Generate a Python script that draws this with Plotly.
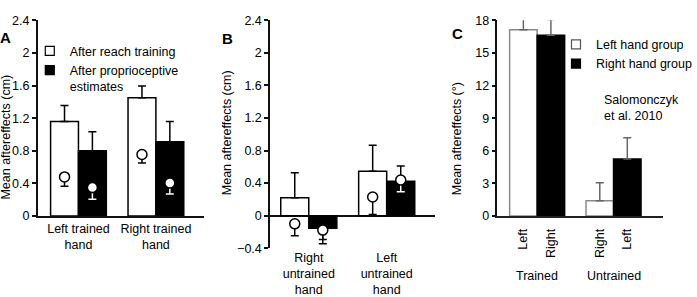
import plotly.graph_objects as go

# ---------------- data ----------------
# Panel A
a_cats = ["Left trained<br>hand", "Right trained<br>hand"]
a_reach = [1.16, 1.45]
a_reach_err = [0.195, 0.145]
a_prop = [0.80, 0.91]
a_prop_err = [0.235, 0.25]
a_reach_circ = [0.48, 0.755]
a_reach_circ_err = [0.115, 0.105]
a_prop_circ = [0.35, 0.405]
a_prop_circ_err = [0.145, 0.135]

# Panel B
b_cats = ["Right<br>untrained<br>hand", "Left<br>untrained<br>hand"]
b_reach = [0.22, 0.547]
b_reach_err = [0.307, 0.318]
b_prop = [-0.153, 0.423]
b_prop_err = [0.14, 0.188]
b_reach_circ = [-0.10, 0.23]
b_reach_circ_err = [0.145, 0.214]
b_prop_circ = [-0.177, 0.438]
b_prop_circ_err = [0.169, 0.145]

# Panel C
c_groups = ["Trained", "Untrained"]
c_left_labels = ["Left", "Right"]
c_right_labels = ["Right", "Left"]
c_left = [17.13, 1.42]
c_left_err = [1.37, 1.65]
c_right = [16.63, 5.24]
c_right_err = [1.43, 1.95]

legend_a = ["After reach training", "After proprioceptive<br>estimates"]
legend_c = ["Left hand group", "Right hand group"]

# ---------------- layout helpers ----------------
W, H = 697, 297
FONT = "Liberation Sans, Arial, sans-serif"
FS = 12.5
OFF = 0.18
BW = 0.36


def px_x(p):
    return p / W


def px_y(p):
    return 1 - p / H


fig = go.Figure()


def err_arrays(vals, errs):
    up = [e if v >= 0 else 0 for v, e in zip(vals, errs)]
    dn = [e if v < 0 else 0 for v, e in zip(vals, errs)]
    return up, dn


def add_bars(vals, errs, xs, fill, line, errcol, name, ax):
    up, dn = err_arrays(vals, errs)
    fig.add_trace(go.Bar(
        x=xs, y=vals, width=BW, name=name.replace("<br>", " "),
        marker=dict(color=fill, line=dict(color=line, width=1.5)),
        error_y=dict(type="data", symmetric=False, array=up, arrayminus=dn,
                     color=errcol, thickness=1.5, width=4),
        xaxis=ax[0], yaxis=ax[1], showlegend=False,
    ))


def add_legend_entry(name, fill, line, legend):
    # legend-only entry with a small square key (no data drawn)
    fig.add_trace(go.Scatter(
        x=[None], y=[None], mode="markers", name=name,
        marker=dict(symbol="square", size=9, color=fill,
                    line=dict(color=line, width=1.2)),
        legend=legend, showlegend=True, hoverinfo="skip",
    ))


def add_circles(vals, errs, xs, bar_vals, bar_fill, ax):
    for x, v, e, b in zip(xs, vals, errs, bar_vals):
        lo = v - e
        inside = bar_fill == "black" and min(0, b) <= lo <= max(0, b)
        col = "white" if inside else "black"
        fig.add_trace(go.Scatter(
            x=[x], y=[v], mode="markers",
            marker=dict(symbol="circle", size=10, color="white",
                        line=dict(color="black", width=1.5)),
            error_y=dict(type="data", symmetric=False, array=[0], arrayminus=[e],
                         color=col, thickness=1.5, width=4),
            xaxis=ax[0], yaxis=ax[1], showlegend=False,
        ))


# Panel A
idx_a = list(range(len(a_cats)))
xa_w = [i - OFF for i in idx_a]
xa_b = [i + OFF for i in idx_a]
add_bars(a_reach, a_reach_err, xa_w, "white", "black", "black", legend_a[0], ("x", "y"))
add_bars(a_prop, a_prop_err, xa_b, "black", "black", "black", legend_a[1], ("x", "y"))
add_circles(a_reach_circ, a_reach_circ_err, xa_w, a_reach, "white", ("x", "y"))
add_circles(a_prop_circ, a_prop_circ_err, xa_b, a_prop, "black", ("x", "y"))

# Panel B
idx_b = list(range(len(b_cats)))
xb_w = [i - OFF for i in idx_b]
xb_b = [i + OFF for i in idx_b]
add_bars(b_reach, b_reach_err, xb_w, "white", "black", "black", legend_a[0], ("x2", "y2"))
add_bars(b_prop, b_prop_err, xb_b, "black", "black", "black", legend_a[1], ("x2", "y2"))
add_circles(b_reach_circ, b_reach_circ_err, xb_w, b_reach, "white", ("x2", "y2"))
add_circles(b_prop_circ, b_prop_circ_err, xb_b, b_prop, "black", ("x2", "y2"))

# Panel C
idx_c = list(range(len(c_groups)))
xc_w = [i - OFF for i in idx_c]
xc_b = [i + OFF for i in idx_c]
add_bars(c_left, c_left_err, xc_w, "white", "#8a8a8a", "#666666", legend_c[0], ("x3", "y3"))
add_bars(c_right, c_right_err, xc_b, "black", "black", "#666666", legend_c[1], ("x3", "y3"))

# legend keys
add_legend_entry(legend_a[0], "white", "black", "legend")
add_legend_entry(legend_a[1], "black", "black", "legend")
add_legend_entry(legend_c[0], "white", "#555", "legend2")
add_legend_entry(legend_c[1], "black", "black", "legend2")

c_tickvals = []
c_ticktext = []
for i in idx_c:
    c_tickvals += [i - OFF, i + OFF]
    c_ticktext += [c_left_labels[i], c_right_labels[i]]

axis_font = dict(family=FONT, size=FS, color="black")

common_y = dict(showline=True, linecolor="#111", linewidth=1.5, ticks="outside",
                ticklen=4, tickwidth=1.5, tickcolor="#111", showgrid=False,
                tickfont=axis_font, fixedrange=True)
common_x = dict(showgrid=False, zeroline=False, ticks="", tickfont=axis_font,
                fixedrange=True)

fig.update_layout(
    width=W, height=H,
    margin=dict(l=0, r=0, t=0, b=0),
    paper_bgcolor="white", plot_bgcolor="white",
    font=dict(family=FONT, size=FS, color="black"),
    barmode="overlay",
    xaxis=dict(domain=[px_x(38), px_x(205)], range=[-0.526, 1.615],
               tickvals=idx_a, ticktext=a_cats, showline=True, linecolor="#111",
               linewidth=1.5, **common_x),
    yaxis=dict(domain=[px_y(221), px_y(14)], range=[0, 2.4], dtick=0.4,
               tickformat="~g", anchor="x", zeroline=False, **common_y),
    xaxis2=dict(domain=[px_x(272), px_x(438)], range=[-0.497, 1.618],
                tickvals=idx_b, ticktext=b_cats, showline=False, anchor="y2",
                **common_x),
    yaxis2=dict(domain=[px_y(255), px_y(14)], range=[-0.4, 2.4], dtick=0.4,
                tick0=0, tickformat="~g", anchor="x2",
                zeroline=True, zerolinecolor="#111", zerolinewidth=1.5,
                **common_y),
    xaxis3=dict(domain=[px_x(501), px_x(668)], range=[-0.52, 1.65],
                tickvals=c_tickvals, ticktext=c_ticktext, tickangle=-90,
                ticklabelstandoff=6,
                showline=True, linecolor="#222", linewidth=1.5, anchor="y3",
                **common_x),
    yaxis3=dict(domain=[px_y(221), px_y(14)], range=[0, 18], dtick=3,
                anchor="x3", zeroline=False, **common_y),
    legend=dict(x=px_x(30), y=px_y(31), xanchor="left", yanchor="top",
                bgcolor="rgba(0,0,0,0)", font=dict(family=FONT, size=FS),
                itemwidth=30, valign="top", tracegroupgap=0),
    legend2=dict(x=px_x(560), y=px_y(24), xanchor="left", yanchor="top",
                 bgcolor="rgba(0,0,0,0)", font=dict(family=FONT, size=FS),
                 itemwidth=30, tracegroupgap=0),
)

ann = []
# y axis titles
for x, y, t in [(6, 137, "Mean aftereffects (cm)"),
                (228, 133, "Mean aftereffects (cm)"),
                (460, 139, "Mean aftereffects (°)")]:
    ann.append(dict(x=px_x(x), y=px_y(y), xref="paper", yref="paper",
                    text=t, textangle=-90, showarrow=False,
                    xanchor="center", yanchor="middle",
                    font=dict(family=FONT, size=FS, color="black")))
# panel letters
for x, y, t in [(6, 32, "A"), (229, 33, "B"), (461, 28, "C")]:
    ann.append(dict(x=px_x(x), y=px_y(y), xref="paper", yref="paper",
                    text="<b>%s</b>" % t, showarrow=False,
                    xanchor="center", yanchor="middle",
                    font=dict(family=FONT, size=15, color="black")))
# group labels panel C
for i, g in zip(idx_c, c_groups):
    ann.append(dict(x=i, y=px_y(284), xref="x3", yref="paper", text=g,
                    showarrow=False, xanchor="center", yanchor="middle",
                    font=dict(family=FONT, size=FS, color="black")))
# citation
ann.append(dict(x=px_x(606), y=px_y(107), xref="paper", yref="paper",
                text="Salomonczyk<br>et al. 2010", showarrow=False,
                xanchor="left", yanchor="middle", align="left",
                font=dict(family=FONT, size=FS, color="black")))
fig.update_layout(annotations=ann)

fig.write_html("out.html")
